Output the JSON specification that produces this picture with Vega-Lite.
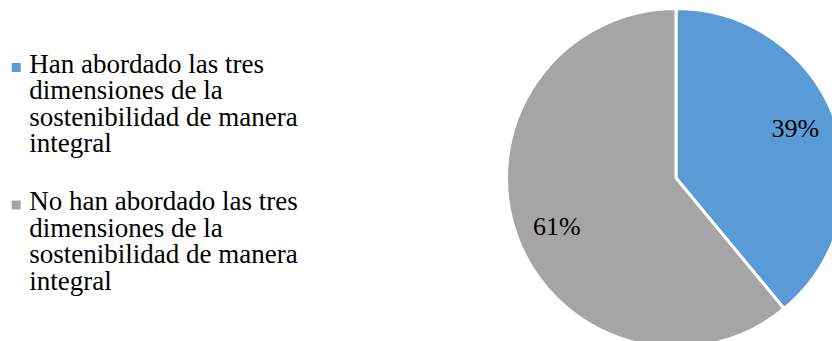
{
  "$schema": "https://vega.github.io/schema/vega-lite/v6.json",
  "autosize": {"type": "none"},
  "width": 312,
  "height": 326,
  "padding": {"left": 520, "top": 15, "right": 0, "bottom": 0},
  "background": "white",
  "data": {
    "values": [
      {"categoria": "Han abordado las tres dimensiones de la sostenibilidad de manera integral", "valor": 39},
      {"categoria": "No han abordado las tres dimensiones de la sostenibilidad de manera integral", "valor": 61}
    ]
  },
  "transform": [{"calculate": "datum.valor + '%'", "as": "etiqueta"}],
  "encoding": {
    "theta": {"field": "valor", "type": "quantitative", "stack": true},
    "color": {
      "field": "categoria",
      "type": "nominal",
      "scale": {"range": ["#5B9BD5", "#A5A5A5"]},
      "legend": {
        "title": null,
        "orient": "none",
        "legendX": -508,
        "legendY": 44,
        "padding": 0,
        "labelFont": "Liberation Serif",
        "labelFontSize": 27,
        "labelColor": "#000000",
        "labelLimit": 500,
        "labelBaseline": "alphabetic",
        "labelOffset": -0.4,
        "symbolOffset": -9.3,
        "rowPadding": 30.5,
        "symbolType": "M-1,-2.11H1V-0.11H-1Z",
        "symbolSize": 81,
        "symbolStrokeWidth": 0,
        "labelExpr": "datum.label[0] == 'H' ? ['Han abordado las tres', 'dimensiones de la', 'sostenibilidad de manera', 'integral'] : ['No han abordado las tres', 'dimensiones de la', 'sostenibilidad de manera', 'integral']"
      }
    }
  },
  "layer": [
    {
      "mark": {"type": "arc", "outerRadius": 169.5, "stroke": "white", "strokeWidth": 3}
    },
    {
      "mark": {"type": "text", "radius": 129, "thetaOffset": -0.045, "font": "Liberation Serif", "fontSize": 26, "color": "#000000"},
      "encoding": {
        "text": {"field": "etiqueta", "type": "nominal"},
        "color": {"value": "#000000"}
      }
    }
  ],
  "config": {
    "view": {"stroke": null},
    "style": {"guide-label": {"lineHeight": 26.5}}
  }
}
